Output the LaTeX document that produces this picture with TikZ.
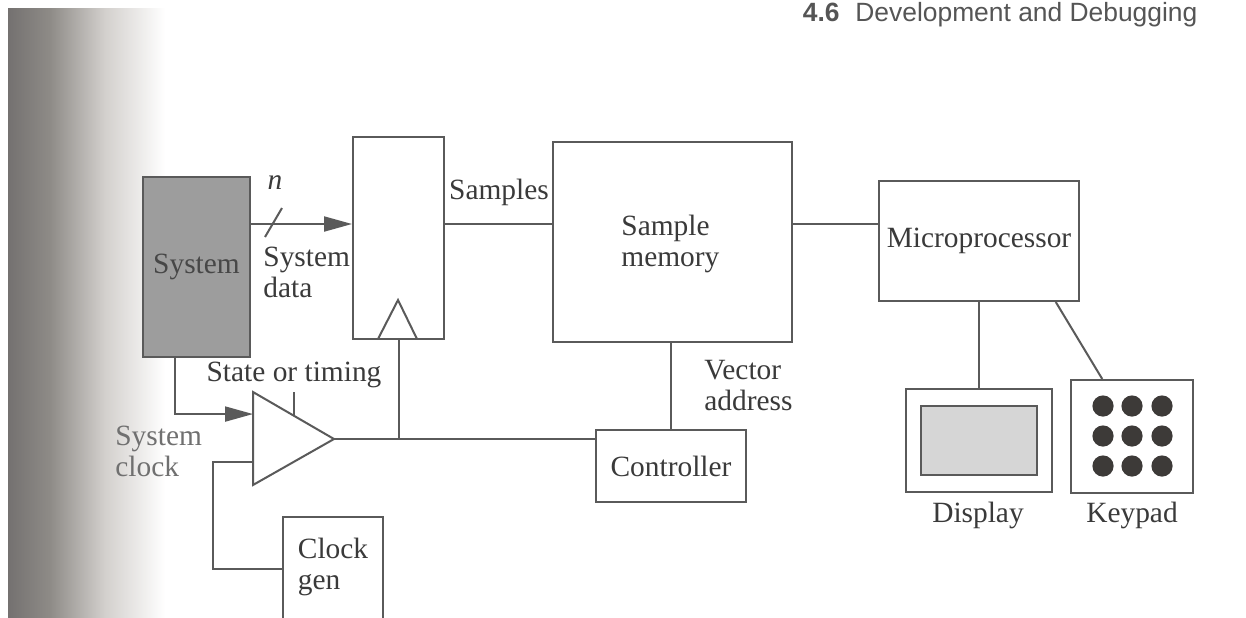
\documentclass[tikz,border=0pt]{standalone}
\usepackage{fontspec}
\setmainfont{Liberation Serif}
\setsansfont{Liberation Sans}
\usetikzlibrary{arrows.meta,fit,calc}
\definecolor{ln}{HTML}{5A5A5A}
\definecolor{txt}{HTML}{3A3A3A}
\definecolor{sysgray}{HTML}{9D9D9D}
\definecolor{scr}{HTML}{D6D6D6}
\definecolor{dotc}{HTML}{3D3A38}
\definecolor{hdr}{HTML}{555555}
\definecolor{shA}{HTML}{747170}
\definecolor{shB}{HTML}{8E8B87}
\definecolor{shC}{HTML}{D3D0CD}
\definecolor{fadetxt}{HTML}{707070}
\newcommand\lblfont{\fontsize{14.7}{15.5}\selectfont}
\begin{document}
\begin{tikzpicture}[x=0.5pt,y=-0.5pt,
  lbl/.style={text=txt, font=\lblfont, inner sep=0pt},
  box/.style={draw=ln, line width=1pt, inner sep=0pt},
  wire/.style={draw=ln, line width=1pt},
  arr/.style={wire, -{Triangle[length=14pt,width=7.5pt]}},
  dot/.style={fill=dotc}
]
\useasboundingbox (0,0) rectangle (1246,617);
\clip (0,0) rectangle (1246,617);
\fill[white] (0,0) rectangle (1246,617);
% scan shadow at the left edge
\shade[left color=shA, right color=shB] (8,8) rectangle (50,617);
\shade[left color=shB, right color=shC] (50,8) rectangle (105,617);
\shade[left color=shC, right color=white] (105,8) rectangle (165,617);

% page header
\node[anchor=base east, font=\sffamily\bfseries\fontsize{13.2}{14}\selectfont, text=hdr, inner sep=0pt] (hn) at (840,21) {4.6};
\node[anchor=base west, font=\sffamily\fontsize{13.2}{14}\selectfont, text=hdr, inner sep=0pt] (hd) at (855,21) {Development and Debugging};

% blocks
\node[box, fill=sysgray, fit={(143,177) (250,357)}] (sys) {};
\node[lbl, text=black!72] (syst) at (sys.center) {System};
\node[box, fit={(353,137) (444,339)}] (reg) {};
\draw[wire, line join=miter] (378,339) -- (398,300) -- (417,339);
\node[box, fit={(553,142) (792,342)}] (mem) {};
\node[lbl, anchor=west, align=left] (memt) at (621,244) {Sample\\memory};
\node[box, fit={(879,181) (1079,301)}] (mp) {};
\node[lbl] (mpt) at (mp.center) {Microprocessor};
\node[box, fit={(596,430) (746,502)}] (ctl) {};
\node[lbl] (ctlt) at (ctl.center) {Controller};
\node[box, fit={(283,517) (383,640)}] (cg) {};
\node[lbl, align=left] (cgt) at (333,567) {Clock\\gen};
\node[box, fit={(906,389) (1052,492)}] (disp) {};
\node[box, fill=scr, fit={(921,406) (1037,475)}] (scr) {};
\node[box, fit={(1071,380) (1193,493)}] (kp) {};
\foreach \xx in {1103,1132,1162}
  \foreach \yy in {406,436,466}
    \fill[dot] (\xx,\yy) circle[radius=5.3pt];

% amplifier / gate
\coordinate (a1) at (253,392);
\coordinate (a2) at (253,485);
\coordinate (ao) at (334,439);
\draw[wire, fill=white, line join=miter] (a1) -- (ao) -- (a2) -- cycle;
\draw[wire] (294,392) -- (294,416);
\coordinate (ain1) at ($(a1)!0.237!(a2)$);
\coordinate (ain2) at ($(a1)!0.753!(a2)$);
\coordinate (fb) at ($(ain2)+(-40,0)$);

% labels
\node[lbl, font=\lblfont\itshape] (n) at (275,183) {n};
\node[lbl, anchor=west, align=left] (sd) at (263,272) {System\\data};
\node[lbl] (smp) at (499,192) {Samples};
\node[lbl, anchor=west, align=left] (va) at (704,386) {Vector\\address};
\node[lbl] (sot) at (294,375) {State or timing};
\node[lbl, anchor=west, align=left, text=fadetxt] (sc) at (115,451) {System\\clock};
\node[lbl] (dl) at (978,515) {Display};
\node[lbl] (kl) at (1132,515) {Keypad};

% connectors
\coordinate (dy) at (0,224);
\coordinate (cgy) at (0,569);
\draw[arr] (sys.east |- dy) -- (reg.west |- dy);
\draw[wire] (265,237) -- (282,208);
\draw[wire] (reg.east |- dy) -- (mem.west |- dy);
\draw[wire] (mem.east |- dy) -- (mp.west |- dy);
\draw[wire] (mem.south -| ctl.north) -- (ctl.north);
\draw[wire] (ao) -- (ao -| ctl.west);
\draw[wire] (reg.south) -- (reg.south |- ao);
\coordinate (ck) at ($(sys.south west)!0.3!(sys.south east)$);
\draw[arr] (ck) |- (ain1);
\draw[wire] (cg.west |- cgy) -| (fb) -- (ain2);
\draw[wire] (mp.south -| disp.north) -- (disp.north);
\draw[wire] ($(mp.south west)!0.88!(mp.south east)$) -- ($(kp.north west)!0.26!(kp.north east)$);
\end{tikzpicture}
\end{document}
